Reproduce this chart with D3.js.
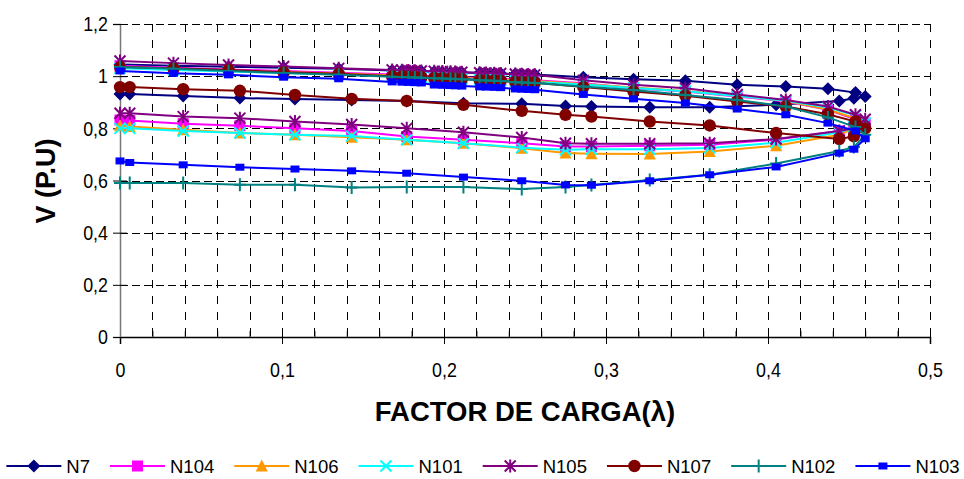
<!DOCTYPE html>
<html><head><meta charset="utf-8">
<script src="https://cdn.jsdelivr.net/npm/d3@7/dist/d3.min.js"></script>
<style>
html,body{margin:0;padding:0;background:#fff;}
text{font-family:"Liberation Sans",Arial,sans-serif;}
</style></head>
<body>
<svg id="chart" width="964" height="479"></svg>
<script>
// ---- data ----
const seriesNames = ["N7","N104","N106","N101","N105","N107","N102","N103"];
// load factor, upper branch (increasing to the nose)
const lamUp = [0, 0.033, 0.067, 0.101, 0.135, 0.168, 0.174, 0.178, 0.182, 0.186, 0.194, 0.199, 0.204, 0.207, 0.211, 0.222, 0.226, 0.231, 0.235, 0.244, 0.248, 0.252, 0.256, 0.286, 0.317, 0.349, 0.381, 0.411, 0.437, 0.454, 0.46];
// load factor, lower branch (returning from the nose)
const lamLo = [0.453, 0.444, 0.405, 0.364, 0.327, 0.291, 0.275, 0.248, 0.212, 0.177, 0.143, 0.108, 0.074, 0.039, 0.006, 0];

const upN7   = [1.045, 1.04, 1.036, 1.032, 1.028, 1.022, 1.021, 1.02, 1.02, 1.019, 1.017, 1.016, 1.015, 1.015, 1.014, 1.012, 1.011, 1.01, 1.01, 1.008, 1.007, 1.006, 1.006, 0.996, 0.988, 0.982, 0.967, 0.96, 0.952, 0.937, 0.922];
const upN104 = [1.04, 1.032, 1.026, 1.02, 1.013, 1.006, 1.005, 1.004, 1.003, 1.002, 1.0, 0.999, 0.998, 0.997, 0.996, 0.993, 0.992, 0.991, 0.99, 0.987, 0.986, 0.985, 0.984, 0.973, 0.954, 0.941, 0.922, 0.903, 0.871, 0.835, 0.82];
const upN106 = [1.035, 1.028, 1.022, 1.016, 1.01, 1.003, 1.002, 1.001, 1.0, 0.999, 0.997, 0.996, 0.995, 0.994, 0.993, 0.99, 0.989, 0.988, 0.987, 0.984, 0.983, 0.982, 0.981, 0.97, 0.957, 0.943, 0.925, 0.905, 0.872, 0.838, 0.81];
const upN101 = [1.03, 1.024, 1.018, 1.012, 1.006, 1.0, 0.999, 0.998, 0.997, 0.996, 0.994, 0.993, 0.992, 0.991, 0.99, 0.987, 0.986, 0.985, 0.984, 0.981, 0.98, 0.979, 0.978, 0.968, 0.955, 0.942, 0.924, 0.906, 0.88, 0.85, 0.82];
const upN105 = [1.058, 1.05, 1.043, 1.037, 1.03, 1.024, 1.023, 1.022, 1.021, 1.02, 1.019, 1.018, 1.017, 1.016, 1.015, 1.013, 1.012, 1.011, 1.01, 1.008, 1.007, 1.006, 1.005, 0.984, 0.967, 0.954, 0.93, 0.909, 0.884, 0.852, 0.835];
const upN107 = [1.035, 1.03, 1.024, 1.015, 1.009, 1.0, 0.999, 0.998, 0.997, 0.996, 0.993, 0.992, 0.991, 0.99, 0.989, 0.985, 0.984, 0.983, 0.982, 0.978, 0.977, 0.976, 0.975, 0.958, 0.941, 0.925, 0.903, 0.884, 0.854, 0.826, 0.80];
const upN102 = [1.035, 1.028, 1.02, 1.012, 1.005, 0.998, 0.997, 0.996, 0.995, 0.994, 0.992, 0.991, 0.99, 0.989, 0.988, 0.984, 0.983, 0.982, 0.981, 0.977, 0.976, 0.975, 0.974, 0.96, 0.947, 0.928, 0.909, 0.884, 0.842, 0.805, 0.775];
const upN103 = [1.02, 1.011, 1.005, 0.996, 0.99, 0.978, 0.977, 0.976, 0.975, 0.974, 0.966, 0.965, 0.964, 0.963, 0.962, 0.959, 0.958, 0.957, 0.956, 0.951, 0.95, 0.949, 0.948, 0.93, 0.913, 0.897, 0.874, 0.852, 0.82, 0.79, 0.76];

const loN7   = [0.915, 0.905, 0.89, 0.881, 0.881, 0.884, 0.886, 0.894, 0.896, 0.905, 0.909, 0.912, 0.916, 0.924, 0.932, 0.932];
const loN104 = [0.805, 0.79, 0.757, 0.737, 0.733, 0.73, 0.73, 0.743, 0.756, 0.769, 0.79, 0.80, 0.81, 0.818, 0.83, 0.832];
const loN106 = [0.80, 0.775, 0.733, 0.711, 0.702, 0.703, 0.705, 0.724, 0.743, 0.756, 0.766, 0.775, 0.782, 0.795, 0.807, 0.81];
const loN101 = [0.805, 0.785, 0.745, 0.725, 0.72, 0.72, 0.718, 0.726, 0.743, 0.756, 0.771, 0.775, 0.782, 0.79, 0.80, 0.80];
const loN105 = [0.80, 0.79, 0.759, 0.743, 0.741, 0.741, 0.743, 0.765, 0.785, 0.80, 0.815, 0.826, 0.839, 0.845, 0.858, 0.858];
const loN107 = [0.769, 0.759, 0.782, 0.811, 0.826, 0.845, 0.852, 0.867, 0.89, 0.905, 0.913, 0.928, 0.944, 0.95, 0.958, 0.958];
const loN102 = [0.728, 0.713, 0.665, 0.622, 0.602, 0.583, 0.575, 0.567, 0.575, 0.575, 0.573, 0.584, 0.584, 0.59, 0.59, 0.59];
const loN103 = [0.72, 0.705, 0.652, 0.622, 0.599, 0.582, 0.583, 0.599, 0.613, 0.628, 0.637, 0.644, 0.651, 0.66, 0.669, 0.675];

const xTicks = [0, 0.1, 0.2, 0.3, 0.4, 0.5];
const yTicks = [0, 0.2, 0.4, 0.6, 0.8, 1.0, 1.2];
const xTitle = "FACTOR DE CARGA(\u03bb)";
const yTitle = "V (P.U)";

// ---- styles ----
const ups = [upN7, upN104, upN106, upN101, upN105, upN107, upN102, upN103];
const los = [loN7, loN104, loN106, loN101, loN105, loN107, loN102, loN103];
const styles = [
  {color:"#000080", marker:"diamond"},
  {color:"#FF00FF", marker:"square"},
  {color:"#FF9900", marker:"triangle"},
  {color:"#00FFFF", marker:"x"},
  {color:"#800080", marker:"asterisk"},
  {color:"#800000", marker:"circle"},
  {color:"#008080", marker:"plus"},
  {color:"#0000FF", marker:"smallsquare"}
];

const series = seriesNames.map((name, i) => ({
  name,
  style: styles[i],
  points: lamUp.map((l, j) => [l, ups[i][j]]).concat(lamLo.map((l, j) => [l, los[i][j]]))
}));

const svg = d3.select("#chart");
const x = d3.scaleLinear().domain([0, 0.5]).range([120, 930]);
const y = d3.scaleLinear().domain([0, 1.2]).range([337, 24]);
const fmt = d => String(+d.toFixed(2)).replace(".", ",");
const FONT = '"Liberation Sans",Arial,sans-serif';
function squeeze(sel, f) {
  sel.each(function () {
    const w = this.getComputedTextLength();
    this.setAttribute("textLength", w * f);
    this.setAttribute("lengthAdjust", "spacingAndGlyphs");
  });
}

// gridlines
const grid = svg.append("g");
const vGrid = d3.range(1, 26).map(k => k * 0.02);
grid.selectAll("line.v").data(vGrid).join("line")
  .attr("x1", d => Math.round(x(d)) + 0.5).attr("x2", d => Math.round(x(d)) + 0.5)
  .attr("y1", y(1.2)).attr("y2", y(0))
  .attr("stroke", "#000").attr("stroke-width", 1).attr("stroke-dasharray", "8,8");
grid.selectAll("line.h").data(yTicks.filter(d => d > 0)).join("line")
  .attr("x1", x(0)).attr("x2", x(0.5))
  .attr("y1", d => Math.round(y(d)) + 0.5).attr("y2", d => Math.round(y(d)) + 0.5)
  .attr("stroke", "#000").attr("stroke-width", 1).attr("stroke-dasharray", "8,4");

// axes
const xAxis = svg.append("g").attr("transform", `translate(0,${y(0)})`)
  .call(d3.axisBottom(x).tickValues(xTicks).tickFormat(fmt).tickSize(7).tickPadding(18));
xAxis.select(".domain").attr("stroke", "#000").attr("stroke-width", 1.5);
xAxis.selectAll(".tick line").attr("y1", -7).attr("y2", 7).attr("stroke", "#000");
xAxis.selectAll(".tick text").attr("font-size", 21).attr("fill", "#000").attr("font-family", FONT)
  .call(squeeze, 0.85);
const minor = d3.range(0, 26).map(k => k * 0.02).filter((d, k) => k % 5 !== 0);
svg.append("g").attr("transform", `translate(0,${y(0)})`)
  .call(d3.axisBottom(x).tickValues(minor).tickFormat("").tickSize(-6))
  .call(g => g.select(".domain").remove())
  .selectAll(".tick line").attr("stroke", "#000");

const yAxis = svg.append("g").attr("transform", `translate(${x(0)},0)`)
  .call(d3.axisLeft(y).tickValues(yTicks).tickFormat(fmt).tickSize(7).tickPadding(5));
yAxis.select(".domain").attr("stroke", "#777").attr("stroke-width", 1.5);
yAxis.selectAll(".tick line").attr("x1", -7).attr("x2", 7).attr("stroke", "#000");
yAxis.selectAll(".tick text").attr("font-size", 21).attr("fill", "#000").attr("font-family", FONT)
  .call(squeeze, 0.85);

// titles
svg.append("text").attr("x", 525).attr("y", 421).attr("text-anchor", "middle")
  .attr("font-size", 27.5).attr("font-weight", "bold").text(xTitle);
svg.append("text").attr("transform", "translate(55,181) rotate(-90)").attr("text-anchor", "middle")
  .attr("font-size", 27).attr("font-weight", "bold").text(yTitle);

// markers
function drawMarker(g, type, color, cx, cy) {
  switch (type) {
    case "diamond":
      g.append("path").attr("d", `M${cx},${cy-6.5}L${cx+6.5},${cy}L${cx},${cy+6.5}L${cx-6.5},${cy}Z`).attr("fill", color); break;
    case "square":
      g.append("rect").attr("x", cx-5.5).attr("y", cy-5.5).attr("width", 11).attr("height", 11).attr("fill", color); break;
    case "smallsquare":
      g.append("rect").attr("x", cx-4.5).attr("y", cy-3.5).attr("width", 9).attr("height", 7).attr("fill", color); break;
    case "triangle":
      g.append("path").attr("d", `M${cx},${cy-6.5}L${cx+6},${cy+5.5}L${cx-6},${cy+5.5}Z`).attr("fill", color); break;
    case "circle":
      g.append("circle").attr("cx", cx).attr("cy", cy).attr("r", 6.2).attr("fill", color); break;
    case "x":
      g.append("path").attr("d", `M${cx-5.5},${cy-5.5}L${cx+5.5},${cy+5.5}M${cx-5.5},${cy+5.5}L${cx+5.5},${cy-5.5}`)
        .attr("stroke", color).attr("stroke-width", 2).attr("fill", "none"); break;
    case "plus":
      g.append("path").attr("d", `M${cx-6},${cy}L${cx+6},${cy}M${cx},${cy-6.5}L${cx},${cy+6.5}`)
        .attr("stroke", color).attr("stroke-width", 2).attr("fill", "none"); break;
    case "asterisk":
      g.append("path").attr("d", `M${cx-5.5},${cy-5.5}L${cx+5.5},${cy+5.5}M${cx-5.5},${cy+5.5}L${cx+5.5},${cy-5.5}M${cx},${cy-6.5}L${cx},${cy+6.5}`)
        .attr("stroke", color).attr("stroke-width", 2).attr("fill", "none"); break;
  }
}

const line = d3.line().x(d => x(d[0])).y(d => y(d[1]));
const plot = svg.append("g");
series.forEach(s => {
  const g = plot.append("g");
  g.append("path").datum(s.points).attr("d", line)
    .attr("fill", "none").attr("stroke", s.style.color).attr("stroke-width", 2);
  s.points.forEach(p => drawMarker(g, s.style.marker, s.style.color, x(p[0]), y(p[1])));
});

// legend
const legend = svg.append("g");
const legY = 466, lineLen = 55, gap = 20;
const items = [];
series.forEach(s => {
  const g = legend.append("g");
  g.append("line").attr("x1", 0).attr("x2", lineLen).attr("y1", 0).attr("y2", 0)
    .attr("stroke", s.style.color).attr("stroke-width", 2);
  drawMarker(g, s.style.marker, s.style.color, lineLen / 2, 0);
  const t = g.append("text").attr("x", lineLen + 5).attr("y", 7).attr("font-size", 18.5).text(s.name);
  items.push({g, w: lineLen + 5 + t.node().getComputedTextLength()});
});
const total = d3.sum(items, d => d.w) + gap * (items.length - 1);
let cursor = 483 - total / 2;
items.forEach(it => { it.g.attr("transform", `translate(${cursor},${legY})`); cursor += it.w + gap; });
</script>
</body></html>
